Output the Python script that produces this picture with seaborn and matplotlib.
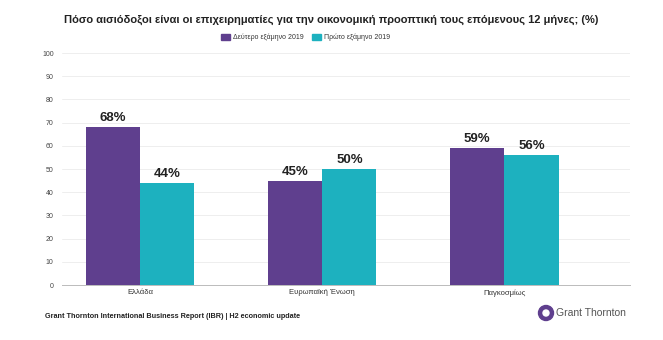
import matplotlib
matplotlib.use("Agg")
import matplotlib.pyplot as plt
import seaborn as sns
import pandas as pd
from matplotlib.patches import Ellipse

categories = ["Ελλάδα", "Ευρωπαϊκή Ένωση", "Παγκοσμίως"]
series_names = ["Δεύτερο εξάμηνο 2019", "Πρώτο εξάμηνο 2019"]
h2_2019 = [68, 45, 59]
h1_2019 = [44, 50, 56]
yticks = [0, 10, 20, 30, 40, 50, 60, 70, 80, 90, 100]

df = pd.DataFrame({
    "cat": categories * 2,
    "series": [series_names[0]] * 3 + [series_names[1]] * 3,
    "val": h2_2019 + h1_2019,
})

sns.set_theme(style="white")
plt.rcParams["font.family"] = ["Liberation Sans", "DejaVu Sans"]

fig = plt.figure(figsize=(6.63, 3.4), dpi=100)
ax = fig.add_axes([62 / 663, 1 - 285 / 340, (630 - 62) / 663, 232 / 340])

palette = ["#5F3F8E", "#1DB1BF"]
sns.barplot(data=df, x="cat", y="val", hue="series", palette=palette,
            width=0.595, gap=0, saturation=1, ax=ax, legend=False, linewidth=0)

for c in ax.containers:
    ax.bar_label(c, labels=[f"{int(v)}%" for v in c.datavalues], padding=2,
                 fontsize=9.5, fontweight="bold", color="#222222")

ax.set_ylim(0, 100)
ax.set_xlim(-0.43, 2.69)
ax.set_yticks(yticks)
ax.set_yticklabels([str(t) for t in yticks], fontsize=5, color="#444444")
ax.tick_params(axis="x", labelsize=5.5, colors="#333333", length=0, pad=3)
ax.tick_params(axis="y", length=3, color="#bbbbbb", pad=3)
ax.set_xlabel("")
ax.set_ylabel("")
ax.grid(axis="y", color="#eeeeee", linewidth=0.7)
ax.set_axisbelow(True)
for s in ["top", "right", "left"]:
    ax.spines[s].set_visible(False)
ax.spines["bottom"].set_color("#bbbbbb")
ax.spines["bottom"].set_linewidth(0.7)

fig.text(331 / 663, 1 - 20 / 340,
         "Πόσο αισιόδοξοι είναι οι επιχειρηματίες για την οικονομική προοπτική τους επόμενους 12 μήνες; (%)",
         ha="center", va="center", fontsize=8, fontweight="bold", color="#222222")

# legend
ly = 1 - 37 / 340
fig.patches.append(plt.Rectangle((221 / 663, ly - 3 / 340), 9 / 663, 6 / 340,
                                 transform=fig.transFigure, color=palette[0]))
fig.text(233 / 663, ly, series_names[0], fontsize=5, va="center", color="#333333")
fig.patches.append(plt.Rectangle((312 / 663, ly - 3 / 340), 9 / 663, 6 / 340,
                                 transform=fig.transFigure, color=palette[1]))
fig.text(324 / 663, ly, series_names[1], fontsize=5, va="center", color="#333333")

fig.text(45 / 663, 1 - 316 / 340,
         "Grant Thornton International Business Report (IBR) | H2 economic update",
         fontsize=5.2, fontweight="bold", va="center", color="#222222")

# logo
cx, cy = 546, 313
fig.patches.append(Ellipse((cx / 663, 1 - cy / 340), 15 / 663, 15 / 340,
                           transform=fig.transFigure, color="#5F3F8E"))
fig.patches.append(Ellipse((cx / 663, 1 - cy / 340), 6 / 663, 6 / 340,
                           transform=fig.transFigure, color="white"))
fig.text(556 / 663, 1 - 313 / 340, "Grant Thornton", fontsize=7.5, va="center",
         color="#555555")

fig.savefig("out.png", dpi=100, facecolor="white")
